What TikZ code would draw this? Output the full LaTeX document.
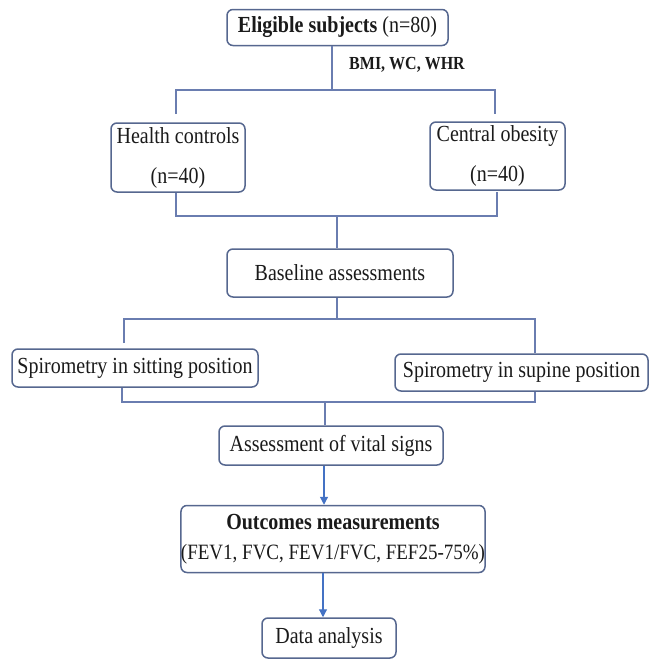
\documentclass[tikz,border=0pt]{standalone}
\usepackage{graphicx}
\usepackage{fontspec}
\setmainfont{Liberation Serif}
\usetikzlibrary{arrows.meta}
\definecolor{boxc}{HTML}{56678F}
\definecolor{linec}{HTML}{6A7DB0}
\definecolor{arrc}{HTML}{4472C4}
\definecolor{txt}{HTML}{1A1A1A}
\newcommand{\tallt}[1]{\scalebox{1}[1.15]{#1}}
\tikzset{
  box/.style={draw=boxc, line width=1.5pt, rounded corners=6pt, fill=white,
    text=txt, inner sep=0pt, align=center, font=\fontsize{20}{24}\selectfont},
  conn/.style={draw=linec, line width=1.2pt},
  arr/.style={draw=arrc, line width=1.2pt, -{Triangle[length=8pt,width=8pt]}},
}
\begin{document}
\begin{tikzpicture}[x=1pt,y=-1pt]
\useasboundingbox (0,0) rectangle (650,664);
% boxes
\node[box, minimum width=221pt, minimum height=36pt] (elig) at (337.5,27.5) {\tallt{\textbf{Eligible subjects} (n=80)}};
\node[text=txt, font=\fontsize{16}{19}\selectfont\bfseries, inner sep=0pt] (bmi) at (407,65) {\tallt{BMI, WC, WHR}};
\node[box, minimum width=134pt, minimum height=69pt, font=\fontsize{20}{40}\selectfont] (hc) at (178,157.5) {\tallt{Health controls}\\\tallt{(n=40)}};
\node[box, minimum width=135pt, minimum height=68pt, font=\fontsize{20}{40}\selectfont] (co) at (497.5,156) {\tallt{Central obesity}\\\tallt{(n=40)}};
\node[box, minimum width=226pt, minimum height=48pt] (base) at (340,273) {\tallt{Baseline assessments}};
\node[box, minimum width=246pt, minimum height=38pt] (sit) at (135,368) {\tallt{Spirometry in sitting position}};
\node[box, minimum width=253pt, minimum height=37pt] (sup) at (521.5,372.5) {\tallt{Spirometry in supine position}};
\node[box, minimum width=224pt, minimum height=39pt] (vital) at (331,445.5) {\tallt{Assessment of vital signs}};
\node[box, minimum width=284pt, minimum height=67pt, font=\fontsize{19}{30}\selectfont] (out) at (333,539) {\tallt{\fontsize{20}{30}\selectfont\textbf{Outcomes measurements}}\\\tallt{(FEV1, FVC, FEV1/FVC, FEF25-75\%)}};
\node[box, minimum width=134pt, minimum height=40pt] (data) at (329,638) {\tallt{Data analysis}};
% bracket coordinates
\coordinate (j1) at (332,90);
\coordinate (a1) at (176,90);
\coordinate (a2) at (495,90);
\coordinate (a1e) at (176,114);
\coordinate (a2e) at (495,114);
\coordinate (b1) at (176,216);
\coordinate (b2) at (497,216);
\coordinate (b1s) at (176,193);
\coordinate (b2s) at (497,192);
\coordinate (bj) at (337,216);
\coordinate (c0) at (337,319);
\coordinate (c1) at (124,319);
\coordinate (c2) at (535,319);
\coordinate (c1e) at (124,343);
\coordinate (d1) at (122,402);
\coordinate (d2) at (535,402);
\coordinate (d1s) at (122,388);
\coordinate (d2s) at (535,392);
\coordinate (dj) at (325,402);
% connectors
\draw[conn] (elig.south -| j1) -- (j1);
\draw[conn] (a1e) -- (a1) -- (a2) -- (a2e);
\draw[conn] (b1s) -- (b1) -- (b2) -- (b2s);
\draw[conn] (bj) -- (base.north -| bj);
\draw[conn] (base.south -| c0) -- (c0);
\draw[conn] (c1e) -- (c1) -- (c2) -- (sup.north -| c2);
\draw[conn] (d1s) -- (d1) -- (d2) -- (d2s);
\draw[conn] (dj) -- (vital.north -| dj);
\draw[arr] ([xshift=-7pt]vital.south) -- ([xshift=-9pt]out.north);
\draw[arr] ([xshift=-10pt]out.south) -- ([xshift=-6pt]data.north);
\end{tikzpicture}
\end{document}
